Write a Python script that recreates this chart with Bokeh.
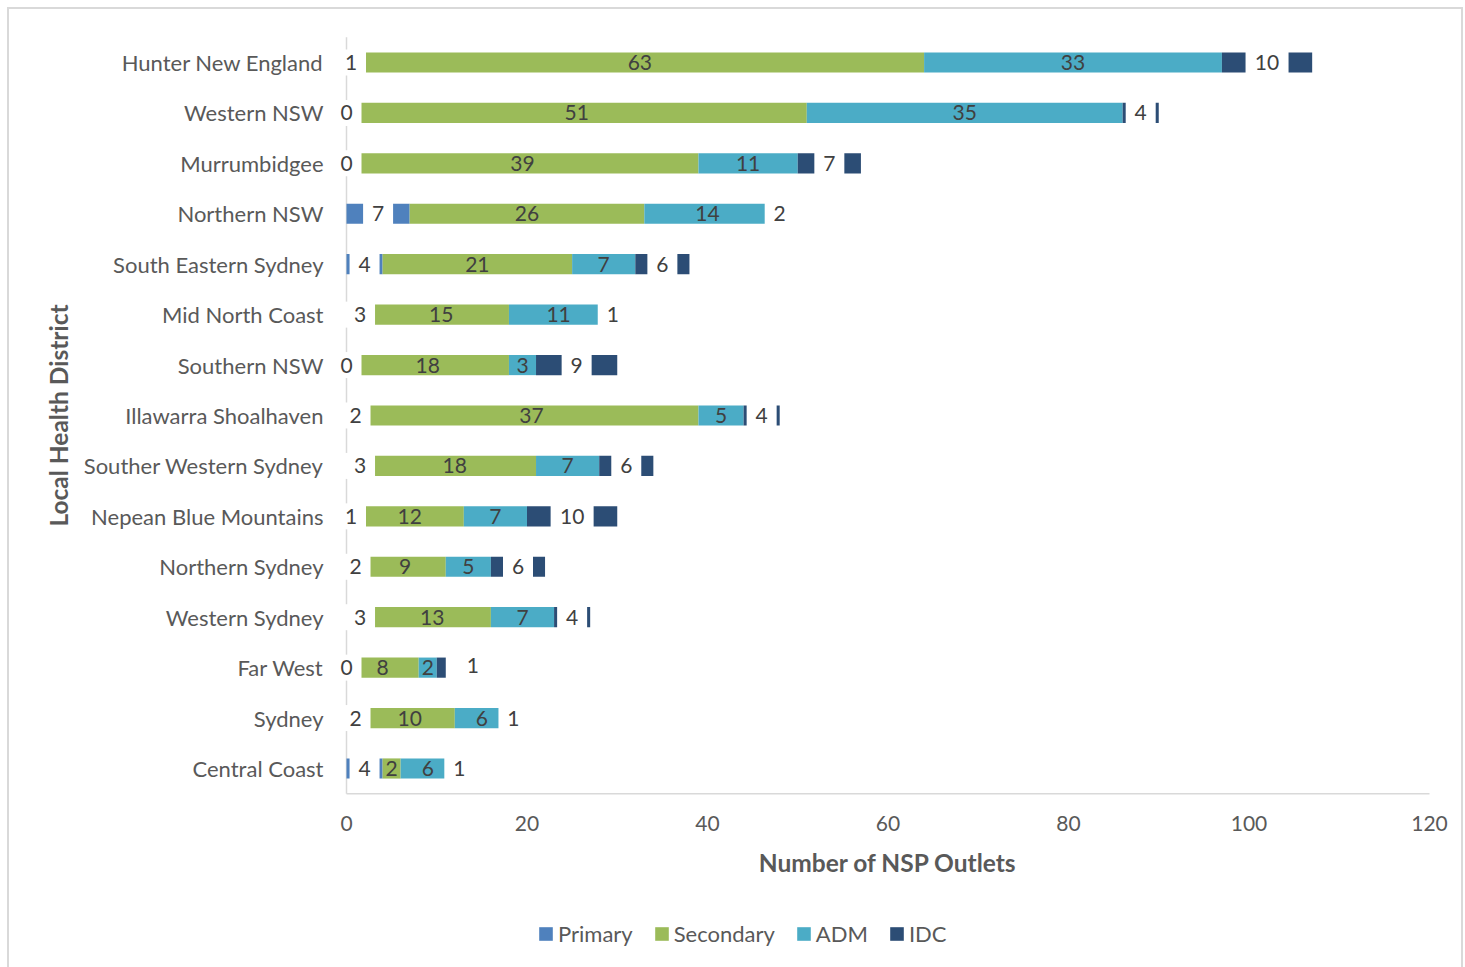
from bokeh.plotting import figure
from bokeh.models import Range1d, Legend, LegendItem, ColumnDataSource
from bokeh.core.properties import value
from bokeh.embed import file_html
from bokeh.resources import INLINE
import numpy as np

districts = ["Hunter New England", "Western NSW", "Murrumbidgee", "Northern NSW",
             "South Eastern Sydney", "Mid North Coast", "Southern NSW",
             "Illawarra Shoalhaven", "Souther Western Sydney", "Nepean Blue Mountains",
             "Northern Sydney", "Western Sydney", "Far West", "Sydney", "Central Coast"]
primary = [1, 0, 0, 7, 4, 3, 0, 2, 3, 1, 2, 3, 0, 2, 4]
secondary = [63, 51, 39, 26, 21, 15, 18, 37, 18, 12, 9, 13, 8, 10, 2]
adm = [33, 35, 11, 14, 7, 11, 3, 5, 7, 7, 5, 7, 2, 6, 6]
idc = [10, 4, 7, 2, 6, 1, 9, 4, 6, 10, 6, 4, 1, 1, 1]
x_ticks = [0, 20, 40, 60, 80, 100, 120]
x_title = "Number of NSP Outlets"
y_title = "Local Health District"

series_names = ["Primary", "Secondary", "ADM", "IDC"]
colors = ["#4f81bd", "#9bbb59", "#4bacc6", "#2c4d75"]

FONT = "Lato"
TXT = "#595959"
n = len(districts)
ys = np.arange(n)[::-1].astype(float)  # first district at top

# frame covers the whole figure; scale: 9.025 px per x unit, 50.43 px per category
W, H = 1465, 967
x0_px, xs = 346.0, 9.025
y0_px, ysc = 768.0, 50.43
p = figure(width=W, height=H, output_backend="svg", toolbar_location=None,
           x_range=Range1d(-x0_px / xs, (W - x0_px) / xs),
           y_range=Range1d(-(H - y0_px) / ysc, y0_px / ysc),
           min_border=0)
p.axis.visible = False
p.grid.visible = False
p.outline_line_color = None
p.border_fill_alpha = 0
p.background_fill_alpha = 0
g = "linear-gradient(#d9d9d9,#d9d9d9)"
p.styles = {
    "background": (f"{g} 7px 7px / 2px 970px no-repeat, "
                   f"{g} 7px 7px / 1456px 2px no-repeat, "
                   f"{g} 1461px 7px / 2px 970px no-repeat, white"),
}

y_lo, y_hi = -0.5, n - 0.5
x_hi = x_ticks[-1]

# axis lines
p.segment(x0=[0, 0], y0=[y_lo, y_lo], x1=[0, x_hi], y1=[y_hi, y_lo],
          line_color="#d9d9d9", line_width=1.5)

vals = [np.array(primary, float), np.array(secondary, float),
        np.array(adm, float), np.array(idc, float)]
left = np.zeros(n)
items = []
centers = []
for name, v, c in zip(series_names, vals, colors):
    right = left + v
    src = ColumnDataSource(dict(y=ys, left=left, right=right))
    r = p.hbar(y="y", left="left", right="right", height=0.4, source=src,
               fill_color=c, line_color=None)
    items.append(LegendItem(label=name, renderers=[r]))
    centers.append((left + right) / 2)
    left = right

# data labels
for k, (name, v) in enumerate(zip(series_names, vals)):
    cx = centers[k].copy()
    cy = ys.copy()
    txt = [str(int(a)) for a in v]
    if name == "IDC":
        i = districts.index("Far West")
        cx[i] += 3.5
        cy[i] += 0.05
    if name in ("Primary", "IDC"):
        widths = [30 if len(t) == 1 else 43 for t in txt]
        p.rect(x=cx, y=cy, width=widths, height=26, width_units="screen",
               height_units="screen", fill_color="white", line_color=None)
    p.text(x=cx, y=cy, text=txt, text_align="center", text_baseline="middle",
           text_font=value(FONT), text_font_size="21px", text_color="#404040")

# category labels
p.text(x=[0] * n, y=ys, text=districts, x_offset=-23, text_align="right",
       text_baseline="middle", text_font=value(FONT), text_font_size="22px",
       text_color=TXT)
# x tick labels
p.text(x=x_ticks, y=[y_lo] * len(x_ticks), text=[str(t) for t in x_ticks],
       y_offset=30, text_align="center", text_baseline="middle",
       text_font=value(FONT), text_font_size="21px", text_color=TXT)
# axis titles
p.text(x=[x_hi / 2], y=[y_lo], text=[x_title], y_offset=69, text_align="center",
       text_baseline="middle", text_font=value(FONT), text_font_size="24.5px",
       text_font_style="bold", text_color=TXT)
p.text(x=[0], y=[(y_lo + y_hi) / 2], text=[y_title], x_offset=-288,
       angle=np.pi / 2, text_align="center", text_baseline="middle",
       text_font=value(FONT), text_font_size="24.5px", text_font_style="bold",
       text_color=TXT)

legend = Legend(items=items, orientation="horizontal", location=(537, 20),
                glyph_width=17, glyph_height=17, label_standoff=4, spacing=20,
                padding=0, margin=0, border_line_color=None,
                background_fill_alpha=0,
                label_text_font=FONT, label_text_font_size="22px",
                label_text_color=TXT)
p.add_layout(legend, "center")

open("out.html", "w").write(file_html(p, INLINE))
